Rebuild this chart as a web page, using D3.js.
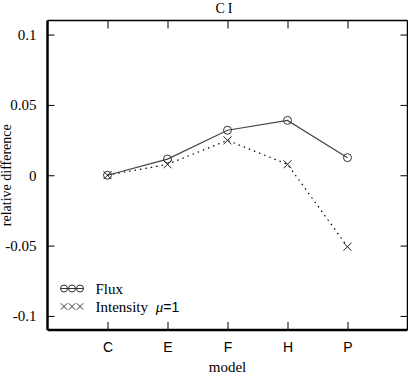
<!DOCTYPE html>
<html>
<head>
<meta charset="utf-8">
<script src="https://cdn.jsdelivr.net/npm/d3@7"></script>
<style>
  body { margin: 0; background: #fff; }
  svg { display: block; }
</style>
</head>
<body>
<svg id="chart" width="408" height="374"></svg>
<script>
var models = ["C", "E", "F", "H", "P"];
var fluxValues = [0, 0.0115, 0.032, 0.039, 0.0125];
var intensityValues = [0, 0.0078, 0.0248, 0.0078, -0.0508];
var yTicks = [-0.1, -0.05, 0, 0.05, 0.1];
var yTickLabels = ["-0.1", "-0.05", "0", "0.05", "0.1"];

var svg = d3.select("#chart"),
    margin = {top: 20.5, right: 0.5, bottom: 44, left: 47.5},
    width = +svg.attr("width") - margin.left - margin.right,
    height = +svg.attr("height") - margin.top - margin.bottom,
    g = svg.append("g").attr("transform", "translate(" + margin.left + "," + margin.top + ")");

var serif = "'Liberation Serif', 'Times New Roman', serif",
    sans = "'Liberation Sans', Arial, sans-serif";

var x = d3.scaleLinear().domain([0, models.length + 1]).range([0, width]);
var y = d3.scaleLinear().domain([-0.11, 0.11]).range([height, 0]);

var xPos = models.map(function(d, i) { return i + 1; });

var xAxisBottom = d3.axisBottom(x).tickValues(xPos).tickSize(-8).tickFormat(function(d) { return models[d - 1]; });
var xAxisTop = d3.axisTop(x).tickValues(xPos).tickSize(-8).tickFormat("");
var yAxisLeft = d3.axisLeft(y).tickValues(yTicks).tickSize(-7).tickFormat(function(d, i) { return yTickLabels[i]; });
var yAxisRight = d3.axisRight(y).tickValues(yTicks).tickSize(-7).tickFormat("");

function styleAxis(a) {
  a.select(".domain").remove();
  a.selectAll(".tick line").attr("stroke", "#000").attr("stroke-width", 1);
}

g.append("g").attr("transform", "translate(0," + height + ")").call(xAxisBottom).call(styleAxis)
  .selectAll(".tick text").attr("y", 12).attr("fill", "#000")
  .style("font-family", sans).style("font-size", "14px");
g.append("g").call(xAxisTop).call(styleAxis);
g.append("g").call(yAxisLeft).call(styleAxis)
  .selectAll(".tick text").attr("x", -11).attr("fill", "#000")
  .style("font-family", serif).style("font-size", "15px");
g.append("g").attr("transform", "translate(" + width + ",0)").call(yAxisRight).call(styleAxis);

// frame: thick left and bottom, thin top and right
g.append("line").attr("x1", 0).attr("x2", 0).attr("y1", 0).attr("y2", height).attr("stroke", "#000").attr("stroke-width", 2.5);
g.append("line").attr("x1", 0).attr("x2", width).attr("y1", height).attr("y2", height).attr("stroke", "#000").attr("stroke-width", 2.5);
g.append("line").attr("x1", 0).attr("x2", width).attr("y1", 0).attr("y2", 0).attr("stroke", "#000").attr("stroke-width", 1.5);
g.append("line").attr("x1", width).attr("x2", width).attr("y1", 0).attr("y2", height).attr("stroke", "#000").attr("stroke-width", 1.5);

var line = d3.line()
  .x(function(d, i) { return x(xPos[i]); })
  .y(function(d) { return y(d); });

g.append("path").datum(fluxValues)
  .attr("fill", "none").attr("stroke", "#444").attr("stroke-width", 1.2)
  .attr("d", line);

g.append("path").datum(intensityValues)
  .attr("fill", "none").attr("stroke", "#000").attr("stroke-width", 1.2)
  .attr("stroke-dasharray", "1.5,4")
  .attr("d", line);

g.selectAll(".flux-pt").data(fluxValues).enter().append("circle")
  .attr("class", "flux-pt")
  .attr("cx", function(d, i) { return x(xPos[i]); })
  .attr("cy", function(d) { return y(d); })
  .attr("r", 4)
  .attr("fill", "none").attr("stroke", "#333").attr("stroke-width", 1);

function crossPath(cx, cy, s) {
  return "M" + (cx - s) + "," + (cy - s) + "L" + (cx + s) + "," + (cy + s) +
         "M" + (cx - s) + "," + (cy + s) + "L" + (cx + s) + "," + (cy - s);
}

g.selectAll(".int-pt").data(intensityValues).enter().append("path")
  .attr("class", "int-pt")
  .attr("d", function(d, i) { return crossPath(x(xPos[i]), y(d), 4); })
  .attr("stroke", "#222").attr("stroke-width", 1).attr("fill", "none");

// legend
var legend = g.append("g").attr("transform", "translate(13,268)");
[0, 1, 2].forEach(function(k) {
  legend.append("circle").attr("cx", k * 8 + 3.5).attr("cy", 0).attr("r", 3.5)
    .attr("fill", "none").attr("stroke", "#333").attr("stroke-width", 1);
  legend.append("path").attr("d", crossPath(k * 8 + 3.5, 18, 3.2))
    .attr("stroke", "#333").attr("stroke-width", 1).attr("fill", "none");
});
legend.append("line").attr("x1", 0).attr("x2", 23).attr("y1", 0).attr("y2", 0).attr("stroke", "#333");
legend.append("text").attr("x", 35).attr("y", 5).text("Flux")
  .style("font-family", serif).style("font-size", "15px");
var t2 = legend.append("text").attr("x", 35).attr("y", 23)
  .style("font-family", serif).style("font-size", "15px");
t2.append("tspan").text("Intensity ");
t2.append("tspan").attr("font-style", "italic").attr("dx", 4).text("\u03BC");
t2.append("tspan").style("font-family", sans).style("font-size", "14px").text("=1");

// titles
svg.append("text").attr("x", margin.left + width / 2 - 2).attr("y", 13).attr("text-anchor", "middle")
  .attr("letter-spacing", 3)
  .style("font-family", serif).style("font-size", "14px").text("CI");
svg.append("text").attr("x", margin.left + x(3)).attr("y", 372).attr("text-anchor", "middle")
  .style("font-family", serif).style("font-size", "15px").text("model");
svg.append("text").attr("transform", "translate(11," + (margin.top + y(0)) + ") rotate(-90)")
  .attr("text-anchor", "middle")
  .style("font-family", serif).style("font-size", "14px").text("relative difference");
</script>
</body>
</html>
